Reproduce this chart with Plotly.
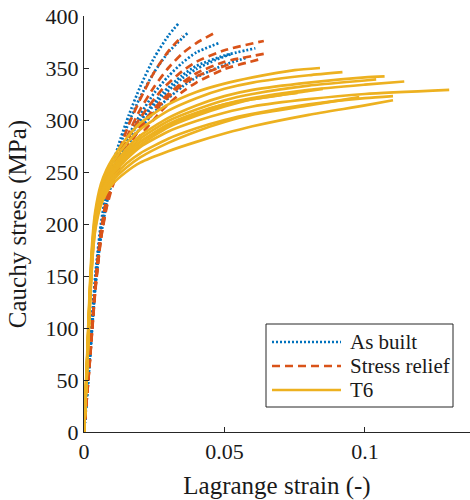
import plotly.graph_objects as go

# Tensile curves: Lagrange strain (-) vs Cauchy stress (MPa)
as_built = [
    ([0, 0.002, 0.004, 0.006, 0.008, 0.010, 0.013, 0.016, 0.020, 0.025, 0.030, 0.034],
     [0, 75, 150, 200, 232, 255, 282, 305, 332, 360, 381, 394]),
    ([0, 0.002, 0.004, 0.006, 0.008, 0.010, 0.013, 0.016, 0.020, 0.025, 0.030, 0.037],
     [0, 70, 145, 195, 228, 250, 277, 298, 322, 346, 365, 384]),
    ([0, 0.002, 0.004, 0.006, 0.008, 0.010, 0.013, 0.016, 0.020, 0.025, 0.030, 0.035, 0.040, 0.048],
     [0, 70, 142, 192, 224, 246, 268, 286, 305, 326, 342, 355, 365, 374]),
    ([0, 0.002, 0.004, 0.006, 0.008, 0.010, 0.013, 0.016, 0.020, 0.028, 0.035, 0.040, 0.050, 0.061],
     [0, 70, 142, 192, 224, 246, 267, 284, 300, 326, 343, 352, 362, 369]),
    ([0, 0.002, 0.004, 0.006, 0.008, 0.010, 0.013, 0.016, 0.020, 0.028, 0.035, 0.040, 0.050, 0.058],
     [0, 67, 138, 188, 219, 240, 260, 276, 292, 316, 332, 341, 353, 360]),
    ([0, 0.002, 0.004, 0.006, 0.008, 0.010, 0.013, 0.016, 0.020, 0.028, 0.035, 0.040, 0.047, 0.053],
     [0, 69, 140, 190, 222, 244, 265, 282, 299, 323, 340, 349, 358, 364]),
]

stress_relief = [
    ([0, 0.002, 0.004, 0.006, 0.008, 0.010, 0.013, 0.016, 0.020, 0.025, 0.030, 0.035],
     [0, 68, 140, 192, 225, 248, 274, 296, 320, 346, 366, 381]),
    ([0, 0.002, 0.004, 0.006, 0.008, 0.010, 0.013, 0.016, 0.020, 0.025, 0.030, 0.035, 0.040, 0.046],
     [0, 68, 140, 190, 222, 245, 268, 288, 310, 332, 350, 364, 374, 383]),
    ([0, 0.002, 0.004, 0.006, 0.008, 0.010, 0.013, 0.016, 0.020, 0.028, 0.035, 0.040, 0.050, 0.064],
     [0, 68, 140, 190, 222, 244, 266, 284, 302, 330, 347, 356, 367, 376]),
    ([0, 0.002, 0.004, 0.006, 0.008, 0.010, 0.013, 0.016, 0.020, 0.028, 0.035, 0.040, 0.050, 0.065],
     [0, 66, 137, 187, 218, 240, 261, 277, 294, 320, 336, 345, 356, 364]),
    ([0, 0.002, 0.004, 0.006, 0.008, 0.010, 0.013, 0.016, 0.020, 0.028, 0.035, 0.040, 0.050, 0.062],
     [0, 65, 135, 185, 215, 235, 255, 270, 285, 310, 327, 336, 349, 358]),
    ([0, 0.002, 0.004, 0.006, 0.008, 0.010, 0.013, 0.016, 0.020, 0.028, 0.035, 0.040, 0.050, 0.053],
     [0, 66, 137, 186, 217, 238, 259, 275, 292, 317, 334, 342, 352, 355]),
]

t6 = [
    ([0, 0.001, 0.002, 0.003, 0.004, 0.006, 0.008, 0.010, 0.015, 0.020, 0.030, 0.040, 0.050, 0.060, 0.075, 0.084],
     [0, 65, 135, 185, 212, 238, 252, 262, 282, 297, 315, 327, 335, 341, 348, 350]),
    ([0, 0.001, 0.002, 0.003, 0.004, 0.006, 0.008, 0.010, 0.015, 0.020, 0.030, 0.040, 0.050, 0.060, 0.080, 0.092],
     [0, 62, 130, 180, 208, 234, 248, 258, 277, 291, 309, 321, 330, 336, 343, 346]),
    ([0, 0.001, 0.002, 0.003, 0.004, 0.006, 0.008, 0.010, 0.015, 0.020, 0.030, 0.040, 0.050, 0.060, 0.080, 0.100, 0.107],
     [0, 60, 128, 178, 205, 230, 244, 254, 272, 285, 302, 314, 323, 329, 336, 341, 342]),
    ([0, 0.001, 0.002, 0.003, 0.004, 0.006, 0.008, 0.010, 0.015, 0.020, 0.030, 0.040, 0.050, 0.060, 0.080, 0.100, 0.104],
     [0, 60, 126, 176, 204, 229, 243, 252, 269, 282, 299, 310, 319, 325, 333, 338, 339]),
    ([0, 0.001, 0.002, 0.003, 0.004, 0.006, 0.008, 0.010, 0.015, 0.020, 0.030, 0.040, 0.050, 0.060, 0.080, 0.100, 0.114],
     [0, 58, 124, 174, 202, 227, 241, 250, 266, 279, 295, 306, 315, 321, 329, 334, 337]),
    ([0, 0.001, 0.002, 0.003, 0.004, 0.006, 0.008, 0.010, 0.015, 0.020, 0.030, 0.040, 0.050, 0.060, 0.080, 0.100, 0.130],
     [0, 57, 122, 172, 200, 225, 238, 247, 262, 274, 289, 299, 307, 313, 320, 325, 329]),
    ([0, 0.001, 0.002, 0.003, 0.004, 0.006, 0.008, 0.010, 0.015, 0.020, 0.030, 0.040, 0.050, 0.060, 0.080, 0.100, 0.110],
     [0, 56, 120, 170, 198, 223, 236, 244, 258, 268, 282, 292, 300, 306, 315, 321, 323]),
    ([0, 0.001, 0.002, 0.003, 0.004, 0.006, 0.008, 0.010, 0.015, 0.020, 0.030, 0.040, 0.050, 0.060, 0.080, 0.100, 0.110],
     [0, 54, 116, 166, 194, 218, 230, 238, 250, 259, 270, 279, 287, 294, 305, 314, 319]),
    ([0, 0.001, 0.002, 0.003, 0.004, 0.006, 0.008, 0.010, 0.015, 0.020, 0.030, 0.040, 0.050, 0.060, 0.070, 0.076],
     [0, 60, 126, 176, 204, 229, 242, 251, 267, 279, 296, 307, 315, 320, 324, 326]),
    ([0, 0.001, 0.002, 0.003, 0.004, 0.006, 0.008, 0.010, 0.015, 0.020, 0.030, 0.040, 0.050, 0.060, 0.080, 0.085],
     [0, 58, 124, 174, 202, 227, 240, 249, 264, 276, 293, 304, 313, 320, 328, 330]),
    ([0, 0.001, 0.002, 0.003, 0.004, 0.006, 0.008, 0.010, 0.015, 0.020, 0.030, 0.040, 0.050, 0.060, 0.080, 0.098],
     [0, 55, 118, 168, 196, 221, 233, 241, 254, 264, 278, 289, 298, 305, 314, 322]),
]

series_names = ["As built", "Stress relief", "T6"]
x_ticks = [0, 0.05, 0.1]
x_tick_text = ["0", "0.05", "0.1"]
y_ticks = [0, 50, 100, 150, 200, 250, 300, 350, 400]

BLUE = "#0072BD"
RED = "#D95319"
YELLOW = "#EDB120"
FONT = "Liberation Serif"
TEXT_COLOR = "#1a1a1a"
AXIS_COLOR = "#262626"

styles = [
    (as_built, BLUE, "2px,2px"),
    (stress_relief, RED, "8px,5px"),
    (t6, YELLOW, "solid"),
]

fig = go.Figure()
for curves, color, dash in styles:
    for xs, ys in curves:
        fig.add_trace(go.Scatter(
            x=xs, y=ys, mode="lines", showlegend=False, hoverinfo="skip",
            line=dict(color=color, width=2.7, dash=dash, shape="spline", smoothing=0.6),
        ))

# Legend drawn as a framed key in the lower right of the axes
X_PX0, X_PX1 = 84, 470
Y_PX0, Y_PX1 = 16, 432


def px_x(p):
    return (p - X_PX0) / (X_PX1 - X_PX0)


def px_y(p):
    return (Y_PX1 - p) / (Y_PX1 - Y_PX0)


shapes = [dict(type="rect", xref="paper", yref="paper",
               x0=px_x(266), x1=px_x(453), y0=px_y(407), y1=px_y(324),
               line=dict(color=AXIS_COLOR, width=1), fillcolor="white", layer="above")]
annotations = []
row_y = [342, 366, 390]
for (curves, color, dash), name, ry in zip(styles, series_names, row_y):
    shapes.append(dict(type="line", xref="paper", yref="paper",
                       x0=px_x(272), x1=px_x(341), y0=px_y(ry), y1=px_y(ry),
                       line=dict(color=color, width=2.6, dash=dash), layer="above"))
    annotations.append(dict(xref="paper", yref="paper", x=px_x(348), y=px_y(ry),
                            text=name, showarrow=False, xanchor="left", yanchor="middle",
                            font=dict(family=FONT, size=21, color=TEXT_COLOR)))

axis_common = dict(
    showline=True, linecolor=AXIS_COLOR, linewidth=1, mirror=False,
    ticks="inside", ticklen=5, tickcolor=AXIS_COLOR, tickwidth=1,
    showgrid=False, zeroline=False,
    tickfont=dict(family=FONT, size=22, color=TEXT_COLOR),
)

fig.update_layout(
    width=470, height=500,
    margin=dict(l=84, r=0, t=16, b=68),
    paper_bgcolor="white", plot_bgcolor="white",
    font=dict(family=FONT, color=TEXT_COLOR),
    xaxis=dict(range=[0, 0.1374], tickvals=x_ticks, ticktext=x_tick_text,
               title=dict(text="Lagrange strain (-)", font=dict(family=FONT, size=25, color=TEXT_COLOR), standoff=13),
               **axis_common),
    yaxis=dict(range=[0, 400], tickvals=y_ticks,
               title=dict(text="Cauchy stress (MPa)", font=dict(family=FONT, size=25, color=TEXT_COLOR), standoff=11),
               **axis_common),
    shapes=shapes, annotations=annotations,
    showlegend=False,
)

fig.write_html("out.html")
